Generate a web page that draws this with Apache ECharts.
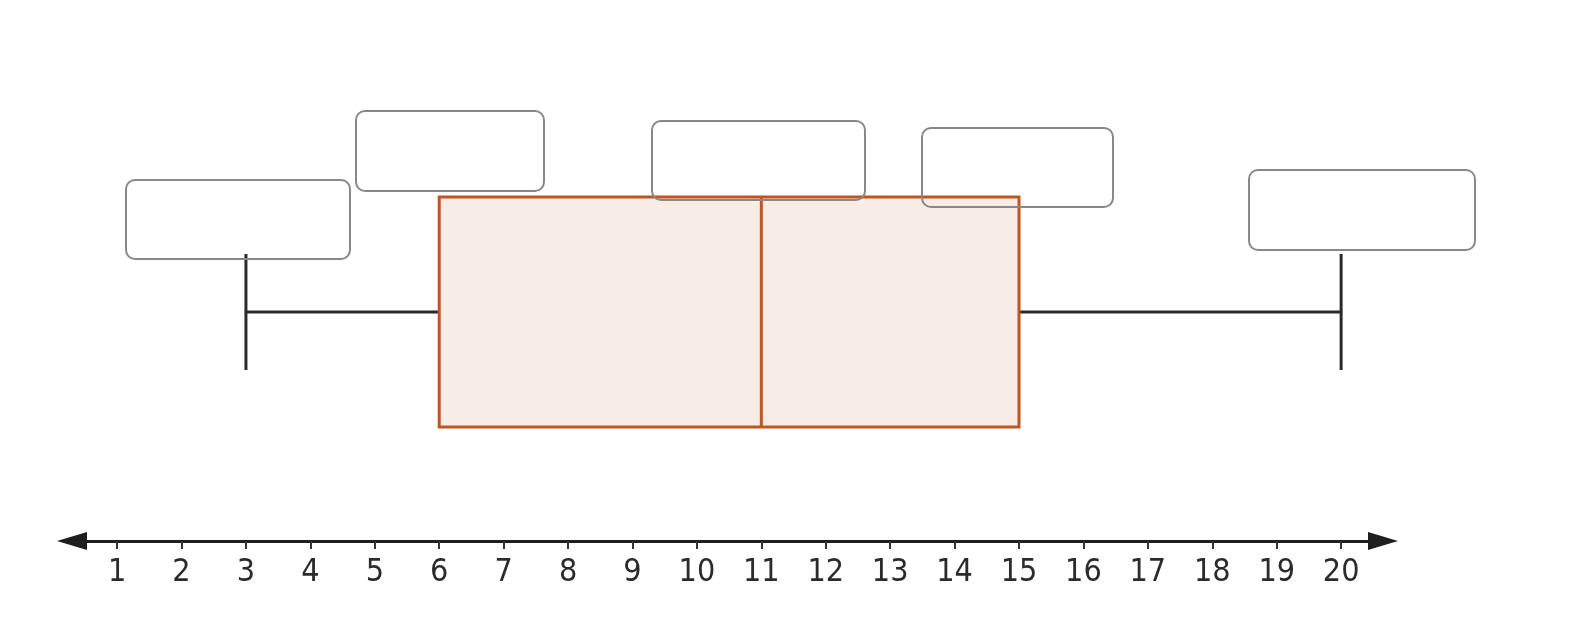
<!DOCTYPE html>
<html>
<head>
<meta charset="utf-8">
<script src="https://cdn.jsdelivr.net/npm/echarts@6/dist/echarts.min.js"></script>
<style>
html,body{margin:0;padding:0;background:#fff;}
#chart{width:1575px;height:634px;}
</style>
</head>
<body>
<div id="chart"></div>
<script>
// five-number summary: min, Q1, median, Q3, max
const summaryNames = ['min', 'Q1', 'median', 'Q3', 'max'];
const summaryValues = [3, 6, 11, 15, 20];
// number line tick labels
const tickValues = [1, 2, 3, 4, 5, 6, 7, 8, 9, 10, 11, 12, 13, 14, 15, 16, 17, 18, 19, 20];

const chart = echarts.init(document.getElementById('chart'), null, {renderer: 'canvas'});

const BOX_HALF = 115;
const CAP_HALF = 58;

function labelBox(x, y, w, h) {
  return {
    type: 'rect', z: 100,
    shape: {x: x, y: y, width: w, height: h, r: 9},
    style: {fill: 'none', stroke: '#888888', lineWidth: 2}
  };
}

const option = {
  backgroundColor: '#ffffff',
  animation: false,
  grid: {left: 72, right: 192, top: 83, bottom: 93},
  xAxis: {
    type: 'value',
    min: 0.3,
    max: 20.65,
    splitLine: {show: false},
    axisLine: {
      show: true,
      symbol: ['triangle', 'triangle'],
      symbolSize: [18, 30],
      lineStyle: {color: '#1e1e1e', width: 3}
    },
    axisTick: {
      show: true,
      customValues: tickValues,
      length: 8,
      lineStyle: {color: '#333333', width: 2}
    },
    axisLabel: {
      show: true,
      customValues: tickValues,
      margin: 16,
      fontSize: 32,
      fontFamily: 'DejaVu Sans Condensed',
      color: '#2b2b2b'
    }
  },
  yAxis: {
    type: 'value', min: 0, max: 1, show: false
  },
  series: [{
    type: 'custom',
    data: [summaryValues],
    encode: {x: [0, 1, 2, 3, 4]},
    renderItem: function (params, api) {
      const yC = api.coord([api.value(0), 0.5])[1];
      const px = i => api.coord([api.value(i), 0.5])[0];
      const xMin = px(0), xQ1 = px(1), xMed = px(2), xQ3 = px(3), xMax = px(4);
      const whisk = {stroke: '#2a2a2a', lineWidth: 3};
      return {
        type: 'group',
        children: [
          {type: 'line', shape: {x1: xMin, y1: yC, x2: xQ1, y2: yC}, style: whisk},
          {type: 'line', shape: {x1: xQ3, y1: yC, x2: xMax, y2: yC}, style: whisk},
          {type: 'line', shape: {x1: xMin, y1: yC - CAP_HALF, x2: xMin, y2: yC + CAP_HALF}, style: whisk},
          {type: 'line', shape: {x1: xMax, y1: yC - CAP_HALF, x2: xMax, y2: yC + CAP_HALF}, style: whisk},
          {type: 'rect', shape: {x: xQ1, y: yC - BOX_HALF, width: xQ3 - xQ1, height: 2 * BOX_HALF},
            style: {fill: '#f8ece6', stroke: '#c0561f', lineWidth: 3}},
          {type: 'line', shape: {x1: xMed, y1: yC - BOX_HALF, x2: xMed, y2: yC + BOX_HALF},
            style: {stroke: '#c0561f', lineWidth: 3}}
        ]
      };
    }
  }],
  graphic: [
    labelBox(126, 180, 224, 79),
    labelBox(356, 111, 188, 80),
    labelBox(652, 121, 213, 79),
    labelBox(922, 128, 191, 79),
    labelBox(1249, 170, 226, 80)
  ]
};

chart.setOption(option);
</script>
</body>
</html>
